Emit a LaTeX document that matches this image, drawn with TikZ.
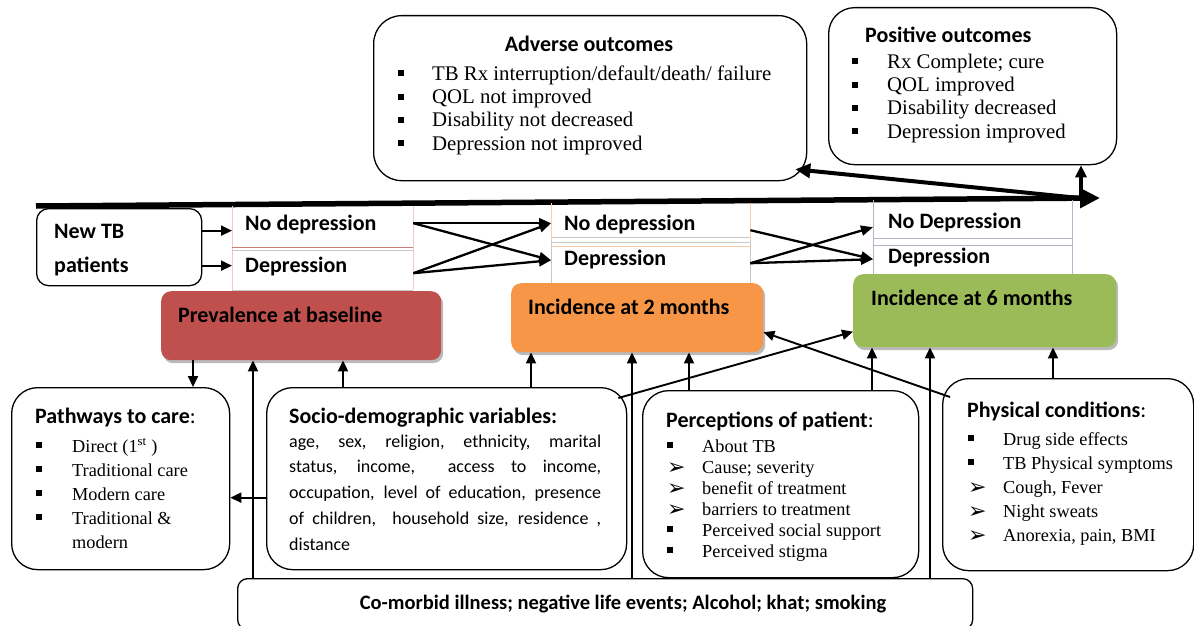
\documentclass[tikz,border=0pt]{standalone}
\usepackage{fontspec}
\setmainfont{Liberation Serif}
\newfontfamily\cali{Carlito}
\newfontfamily\djv{DejaVu Sans}
\usetikzlibrary{arrows.meta,shadows,calc}
\definecolor{cred}{HTML}{C0504D}
\definecolor{corange}{HTML}{F79646}
\definecolor{cgreen}{HTML}{9BBB59}
\definecolor{tgray}{HTML}{C8C8C8}
\definecolor{tlav}{HTML}{B4B4CC}
\newcommand\sqb[1]{\makebox[#1][l]{\rule[4pt]{6pt}{6pt}}}
\newcommand\arb[1]{\makebox[#1][l]{\raisebox{-1pt}[0pt][0pt]{\djv\fontsize{22}{22}\selectfont ➢}}}
\begin{document}
\begin{tikzpicture}[x=1pt,y=-1pt,
  rbox/.style={draw, line width=1.3pt, rounded corners=24pt, anchor=north west, inner sep=0pt},
  cbox/.style={rounded corners=10pt, anchor=north west, inner sep=0pt,
     drop shadow={shadow xshift=2pt, shadow yshift=-3pt, fill=black!60, opacity=.45}},
  rowc/.style={anchor=north west, inner sep=0pt},
  hd/.style={font={\cali\bfseries\fontsize{22}{26}\selectfont}, anchor=base west, inner sep=0pt},
  lst/.style={anchor=north west, inner sep=0pt, align=left},
  arr/.style={line width=1.9pt, -{Triangle[length=11pt,width=10pt]}},
  xarr/.style={line width=2.3pt, -{Triangle[length=12pt,width=10pt]}},
]
\useasboundingbox (0,0) rectangle (1194,626);
\fill[white] (0,0) rectangle (1194,626);

% ---- outcome boxes
\node[rbox, rounded corners=28pt, minimum width=433pt, minimum height=165pt] (adv) at (373,15) {};
\node[hd, anchor=base] (advh) at (589,52) {Adverse outcomes};
\node[lst, font=\fontsize{20.8}{23.3}\selectfont] (advl) at (398,63.7)
  {\strut\sqb{34pt}TB Rx interruption/default/death/ failure\\
   \sqb{34pt}QOL not improved\\
   \sqb{34pt}Disability not decreased\\
   \sqb{34pt}Depression not improved};

\node[rbox, rounded corners=26pt, minimum width=288pt, minimum height=157pt] (pos) at (828,7) {};
\node[hd] (posh) at (865,43) {Positive outcomes};
\node[lst, font=\fontsize{20.8}{23.3}\selectfont] (posl) at (852,51.7)
  {\strut\sqb{35pt}Rx Complete; cure\\
   \sqb{35pt}QOL improved\\
   \sqb{35pt}Disability decreased\\
   \sqb{35pt}Depression improved};

% ---- timeline
\coordinate (t0) at (36,206);
\coordinate (t1) at (1100,198);
\coordinate (fork) at (1081,198.2);
\draw[line width=5.5pt, -{Triangle[length=20pt,width=19pt]}] (t0) -- (t1);
\draw[line width=4pt, -{Triangle[length=15pt,width=14pt]}] (fork) -- ($(adv.south east)+(-12,-12)$);
\draw[line width=3.2pt, -{Triangle[length=12pt,width=11pt]}] (fork) -- (fork |- pos.south);

% ---- new TB patients
\node[rbox, rounded corners=12pt, minimum width=165pt, minimum height=77pt] (newtb) at (36,208) {};
\node[hd] (newtb1) at (54,238) {New TB};
\node[hd] (newtb2) at (54,272) {patients};

% ---- baseline table
\node[rowc, minimum width=181pt, minimum height=41pt] (b0) at (232,206) {};
\node[rowc, minimum width=181pt, minimum height=43pt] (b1) at (232,247) {};
\draw[cred!30, line width=1pt] (b0.north west) -- (b1.south west) (b0.north east) -- (b1.south east);
\draw[cred!75, line width=1pt] (b0.south west) -- (b0.south east);
\draw[tgray, line width=.8pt] ($(b0.south west)+(0,2.5)$) -- ($(b0.south east)+(0,2.5)$);
\draw[tgray, line width=1pt] (b1.south west) -- (b1.south east);
\node[hd] (b0t) at (245,230) {No depression};
\node[hd] (b1t) at (245,272) {Depression};

% ---- 2 months table
\node[rowc, minimum width=199pt, minimum height=37pt] (m0) at (551,203) {};
\node[rowc, minimum width=199pt, minimum height=43pt] (m1) at (551,240) {};
\draw[corange!45, line width=1pt] (m0.north west) -- (m0.south west) (m0.north east) -- (m0.south east);
\draw[tgray, line width=1pt] (m1.north west) -- (m1.south west) (m1.north east) -- (m1.south east);
\draw[tgray, line width=1.2pt] ($(m0.south west)+(0,-3)$) -- ($(m0.south east)+(0,-3)$);
\draw[tgray, line width=1.2pt] ($(m0.south west)+(0,2)$) -- ($(m0.south east)+(0,2)$);
\draw[corange!50, line width=1pt] ($(m0.south west)+(0,6)$) -- ($(m0.south east)+(0,6)$);
\node[hd] (m0t) at (564,230) {No depression};
\node[hd] (m1t) at (564,265) {Depression};

% ---- 6 months table
\node[rowc, minimum width=199pt, minimum height=40pt] (s0) at (873,200) {};
\node[rowc, minimum width=199pt, minimum height=34pt] (s1) at (873,240) {};
\draw[tlav, line width=1pt] (s0.north west) -- (s1.south west) (s0.north east) -- (s1.south east);
\draw[tlav, line width=1.2pt] ($(s0.south west)+(0,-2)$) -- ($(s0.south east)+(0,-2)$);
\draw[tlav, line width=1.2pt] ($(s0.south west)+(0,5)$) -- ($(s0.south east)+(0,5)$);
\node[hd] (s0t) at (888,228) {No Depression};
\node[hd] (s1t) at (888,263) {Depression};

% ---- transitions
\draw[arr] ($(newtb.east)+(0,-16.5)$) coordinate (n0) -- (n0 -| b0.west);
\draw[arr] ($(newtb.east)+(0,18.5)$) coordinate (n1) -- (n1 -| b1.west);
\draw[xarr] ($(b0.east)+(0,-3.5)$) -- ($(m0.west)+(0,1.5)$);
\draw[xarr] ($(b0.east)+(0,-3.5)$) -- ($(m1.west)+(0,-1.5)$);
\draw[xarr] ($(b1.east)+(0,4.5)$) -- ($(m0.west)+(0,1.5)$);
\draw[xarr] ($(b1.east)+(0,4.5)$) -- ($(m1.west)+(0,-1.5)$);
\draw[xarr] ($(m0.east)+(0,8.5)$) -- ($(s1.west)+(0,2)$);
\draw[xarr] ($(m1.east)+(0,1.5)$) -- ($(s0.west)+(0,7)$);
\draw[xarr] ($(m1.east)+(0,1.5)$) -- ($(s1.west)+(0,2)$);

% ---- coloured boxes
\node[cbox, fill=cred, minimum width=280pt, minimum height=69pt] (prev) at (161,291) {};
\node[hd] (prevt) at (178,322) {Prevalence at baseline};
\node[cbox, fill=corange, minimum width=252pt, minimum height=69pt] (inc2) at (511,283) {};
\node[hd] (inc2t) at (528,314) {Incidence at 2 months};
\node[cbox, fill=cgreen, minimum width=263pt, minimum height=73pt] (inc6) at (853,274) {};
\node[hd] (inc6t) at (871,305) {Incidence at 6 months};

% ---- bottom boxes
\node[rbox, rounded corners=26pt, minimum width=218pt, minimum height=182pt] (pw) at (11,387) {};
\node[hd] (pwh) at (35,423) {Pathways to care{\mdseries:}};
\node[lst, font=\fontsize{18.3}{24}\selectfont] (pwl) at (36,435.2)
  {\strut\sqb{36pt}Direct (1\textsuperscript{st} )\\
   \sqb{36pt}Traditional care\\
   \sqb{36pt}Modern care\\
   \sqb{36pt}Traditional \&\\
   \hspace*{36pt}modern};

\node[rbox, rounded corners=26pt, minimum width=360pt, minimum height=182pt] (soc) at (266,387) {};
\node[hd] (soch) at (289,423) {Socio-demographic variables:};
\node[lst, font={\cali\fontsize{18}{25.75}\selectfont}] (socl) at (289,429)
  {\strut\makebox[312pt][s]{age, sex, religion, ethnicity, marital}\\
   \makebox[312pt][s]{status, income,\ \ access to income,}\\
   \makebox[312pt][s]{occupation, level of education, presence}\\
   \makebox[312pt][s]{of children,\ \ household size, residence ,}\\
   distance};

\node[rbox, rounded corners=26pt, minimum width=276pt, minimum height=187pt] (perc) at (642,390) {};
\node[hd] (perch) at (666,427) {Perceptions of patient{\mdseries:}};
\node[lst, font=\fontsize{18.3}{21}\selectfont] (percl) at (667,437.3)
  {\strut\sqb{35pt}About TB\\
   \arb{35pt}Cause; severity\\
   \arb{35pt}benefit of treatment\\
   \arb{35pt}barriers to treatment\\
   \sqb{35pt}Perceived social support\\
   \sqb{35pt}Perceived stigma};

\node[rbox, rounded corners=26pt, minimum width=251pt, minimum height=192pt] (phys) at (942,378) {};
\node[hd] (physh) at (967,417) {Physical conditions{\mdseries:}};
\node[lst, font=\fontsize{18.3}{24}\selectfont] (physl) at (968,428.2)
  {\strut\sqb{35pt}Drug side effects\\
   \sqb{35pt}TB Physical symptoms\\
   \arb{35pt}Cough, Fever\\
   \arb{35pt}Night sweats\\
   \arb{35pt}Anorexia, pain, BMI};

\node[rbox, rounded corners=10pt, minimum width=735pt, minimum height=51pt] (com) at (237,578) {};
\node[hd, anchor=base, font={\cali\bfseries\fontsize{20.5}{24}\selectfont}] (comt) at (623,609)
  {Co-morbid illness; negative life events; Alcohol; khat; smoking};

% ---- influence arrows
\draw[arr] ($(prev.south west)+(32,0)$) coordinate (p1) -- (p1 |- pw.north);
\draw[arr] ($(com.north west)+(16,0)$) coordinate (c1) -- (c1 |- prev.south);
\draw[arr] ($(com.north west)+(395,0)$) coordinate (c2) -- (c2 |- inc2.south);
\draw[arr] ($(com.north west)+(693,0)$) coordinate (c3) -- (c3 |- inc6.south);
\draw[arr] ($(soc.north west)+(77,0)$) coordinate (so1) -- (so1 |- prev.south);
\draw[arr] ($(soc.north west)+(265,0)$) coordinate (so2) -- (so2 |- inc2.south);
\draw[arr] ($(perc.north west)+(47,0)$) coordinate (pe1) -- (pe1 |- inc2.south);
\draw[arr] ($(perc.north west)+(230,0)$) coordinate (pe2) -- (pe2 |- inc6.south);
\draw[arr] ($(phys.north west)+(111,0)$) coordinate (ph1) -- (ph1 |- inc6.south);
\draw[arr] ($(soc.west)+(0,19)$) coordinate (so3) -- (so3 -| pw.east);
\draw[arr] ($(soc.north east)+(-9,11)$) -- ($(inc6.west)+(0,21)$);
\draw[arr] ($(phys.north west)+(8,19)$) -- ($(inc2.east)+(0,14.5)$);
\end{tikzpicture}
\end{document}
